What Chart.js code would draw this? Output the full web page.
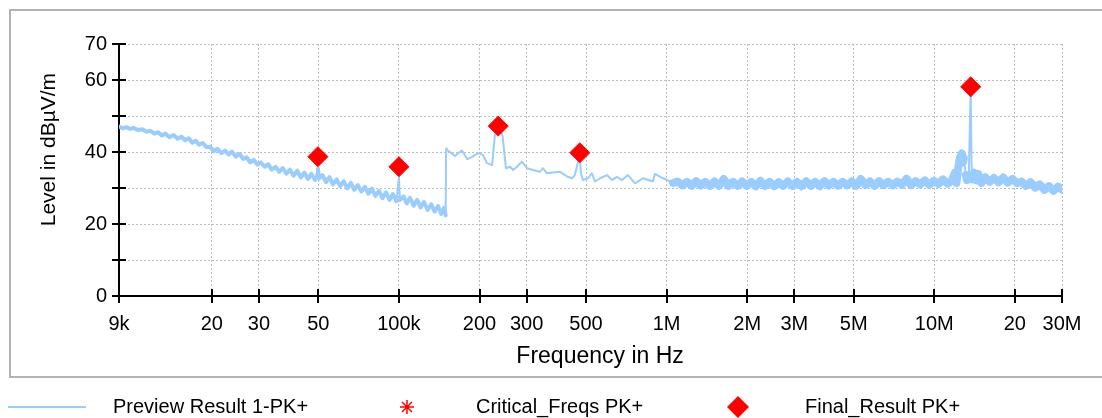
<!DOCTYPE html>
<html>
<head>
<meta charset="utf-8">
<script src="https://cdn.jsdelivr.net/npm/chart.js@4/dist/chart.umd.min.js"></script>
<style>
  html, body { margin: 0; padding: 0; background: #fff; }
  #wrap { width: 1102px; height: 418px; }
</style>
</head>
<body>
<div id="wrap"><canvas id="emc"></canvas></div>
<script>
// preview scan, frequency in kHz / level in dBµV/m
const previewFreqKHz = [
  9.0, 9.3, 9.6, 9.9, 10.2, 10.6, 11.0, 11.4, 11.8, 12.2,
  12.6, 13.0, 13.4, 13.9, 14.4, 14.9, 15.4, 15.9, 16.4, 16.9,
  17.4, 17.9, 18.5, 19.1, 19.7, 20.3, 21.0, 21.7, 22.4, 23.1,
  23.8, 24.6, 25.4, 26.2, 27.0, 27.8, 28.7, 29.6, 30.5, 31.5,
  32.5, 33.5, 34.6, 35.7, 36.8, 38.0, 39.2, 40.4, 41.7, 43.0,
  44.3, 45.7, 47.1, 48.6, 49.8, 50.2, 51.8, 53.4, 55.0, 56.7,
  58.5, 60.3, 62.2, 64.1, 66.1, 68.1, 70.2, 72.4, 74.6, 76.9,
  79.3, 81.7, 84.2, 86.8, 89.5, 92.2, 95.0, 97.9, 100.0, 100.9,
  104, 107, 110, 113.5, 117, 120.5, 124, 128, 132, 136,
  140, 144, 147.5, 149.5, 150,
  151, 155, 162, 166, 172, 180, 187, 197, 206, 213,
  223, 228, 232, 238, 244, 251, 260, 267, 276, 288,
  301, 317, 336, 345, 357, 376, 400, 425, 443, 454,
  466, 473, 479, 487, 508, 526, 540, 564, 599, 625,
  652, 681, 717, 762, 816, 889, 904, 970, 1057,
  1100, 1145, 1190, 1240, 1290, 1340, 1395, 1450, 1510, 1570,
  1635, 1700, 1770, 1840, 1915, 1990, 2070, 2155, 2240, 2330,
  2425, 2520, 2620, 2725, 2835, 2950, 3070, 3190, 3320, 3450,
  3590, 3735, 3885, 4040, 4200, 4370, 4545, 4725, 4915, 5110,
  5315, 5530, 5750, 5980, 6220, 6470, 6730, 7000, 7280, 7570,
  7870, 8185, 8515, 8855, 9210, 9580, 9960, 10360, 10775, 11205,
  11650, 11950, 12100, 12260, 12470, 12690, 12800, 12900, 13100, 13240,
  13450, 13680, 13800, 14060, 14300, 14600, 14800, 15000, 15500, 16100,
  16700, 17400, 18100, 18800, 19600, 20400, 21200, 22000, 22900, 23800,
  24800, 25800, 26800, 27900, 29000, 30000
];
const previewLevel = [
  47.1, 46.6, 46.9, 46.4, 46.7, 46.1, 46.3, 45.6, 45.9, 45.1,
  45.5, 44.6, 45.1, 44.1, 44.7, 43.7, 44.2, 43.3, 43.8, 42.6,
  43.1, 42.0, 42.5, 41.3, 41.5, 40.2, 40.9, 39.7, 40.4, 39.3,
  40.1, 38.7, 39.5, 38.1, 38.5, 37.1, 37.8, 36.5, 37.1, 35.9,
  36.6, 35.1, 35.9, 34.5, 35.5, 34.0, 35.1, 33.4, 34.8, 32.9,
  34.3, 32.5, 33.9, 32.2, 35.5, 32.6, 33.6, 31.6, 33.0, 31.0,
  32.4, 30.5, 31.9, 29.9, 31.4, 29.5, 30.8, 29.0, 30.3, 28.4,
  29.8, 27.8, 29.2, 27.2, 28.8, 26.7, 28.3, 26.3, 33.0, 26.7,
  27.7, 25.7, 27.3, 25.1, 26.7, 24.6, 26.1, 23.9, 25.5, 23.4,
  25.0, 22.8, 24.5, 22.4, 41.0,
  40.6, 40.0, 38.9, 39.6, 40.4, 38.0, 38.6, 39.7, 39.2, 36.9,
  36.4, 44.3, 47.3, 46.8, 44.3, 35.5, 35.9, 35.0, 35.9, 37.3,
  35.5, 35.0, 34.5, 35.5, 34.1, 34.3, 34.5, 33.2, 32.7, 33.6,
  37.0, 39.0, 34.0, 32.2, 32.7, 34.1, 31.8, 32.7, 33.6, 32.2,
  33.1, 32.2, 33.6, 31.3, 32.7, 31.8, 33.9, 32.7, 31.4,
  31.8, 30.7, 31.7, 30.6, 31.9, 30.7, 31.7, 30.6, 31.8, 30.6,
  32.5, 30.6, 31.7, 30.6, 31.8, 30.6, 31.7, 30.5, 32.0, 30.6,
  31.7, 30.5, 31.6, 30.6, 31.8, 30.6, 31.7, 30.5, 31.9, 30.6,
  31.7, 30.5, 31.9, 30.7, 31.7, 30.6, 31.7, 30.7, 31.8, 30.6,
  32.5, 30.8, 31.8, 30.6, 31.9, 30.8, 31.7, 30.7, 31.8, 30.9,
  32.6, 30.8, 31.9, 31.0, 32.1, 30.9, 32.0, 31.1, 32.4, 31.2,
  32.1, 34.3, 31.4, 35.1, 38.5, 39.6, 37.1, 38.2, 33.6, 32.2,
  32.7, 57.5, 32.4, 34.3, 32.2, 33.9, 31.8, 31.4, 33.0, 31.7,
  32.8, 31.6, 32.9, 31.5, 32.5, 31.3, 31.8, 30.6, 31.6, 30.1,
  31.0, 29.5, 30.5, 29.2, 30.4, 29.6
];

// final measurement results
const finalFreqKHz = [49.8, 100, 235, 474, 13680];
const finalLevel = [38.7, 35.9, 47.2, 39.8, 58.1];

// critical frequencies (none drawn in the plot)
const criticalFreqKHz = [];
const criticalLevel = [];

const xTickValues = [9e3, 2e4, 3e4, 5e4, 1e5, 2e5, 3e5, 5e5, 1e6, 2e6, 3e6, 5e6, 1e7, 2e7, 3e7];
const xTickLabels = ['9k', '20', '30', '50', '100k', '200', '300', '500', '1M', '2M', '3M', '5M', '10M', '20', '30M'];
const yLabelled = [0, 20, 40, 60, 70];

const traceColor = '#99ccff';
const markColor = '#ff0000';
const fontFamily = '"Liberation Sans", Arial, Helvetica, sans-serif';

const toPoints = (fs, ls) => fs.map((f, i) => ({ x: f * 1000, y: ls[i] }));

// the dense noise floor of the scan is drawn thicker, single spikes and the 150k-1M part thin
const traceWidth = ctx => {
  const a = ctx.p0.parsed, b = ctx.p1.parsed;
  const dy = Math.abs(b.y - a.y);
  if (a.x >= 1.05e6) return dy < 4 ? 8 : 2;
  if (a.x < 150e3) return dy < 3 ? 4 : 2;
  return 2;
};

// frame, crossing tick marks and the legend row
const decor = {
  id: 'decor',
  beforeDraw(chart) {
    const ctx = chart.ctx;
    ctx.save();
    ctx.fillStyle = '#ffffff';
    ctx.fillRect(0, 0, chart.width, chart.height);
    ctx.strokeStyle = '#b3b3b3';
    ctx.lineWidth = 2;
    ctx.strokeRect(10, 10, chart.width + 10, 367);
    ctx.restore();
  },
  afterDraw(chart) {
    const ctx = chart.ctx;
    const xs = chart.scales.x;
    const ys = chart.scales.y;
    ctx.save();
    ctx.strokeStyle = '#000';
    ctx.lineWidth = 2;
    ctx.beginPath();
    xs.ticks.forEach(t => {
      const px = Math.round(xs.getPixelForValue(t.value));
      ctx.moveTo(px, ys.bottom - 7);
      ctx.lineTo(px, ys.bottom + 7);
    });
    ys.ticks.forEach(t => {
      const py = Math.round(ys.getPixelForValue(t.value));
      ctx.moveTo(xs.left - 7, py);
      ctx.lineTo(xs.left + 7, py);
    });
    ctx.stroke();

    const ly = 407;
    const ds = chart.data.datasets;
    ctx.font = '20px ' + fontFamily;
    ctx.textBaseline = 'middle';
    ctx.textAlign = 'left';
    ctx.fillStyle = '#000';

    ctx.strokeStyle = traceColor;
    ctx.lineWidth = 2;
    ctx.beginPath();
    ctx.moveTo(8, ly);
    ctx.lineTo(86, ly);
    ctx.stroke();
    ctx.fillText(ds[0].label, 113, ly);

    // asterisk
    ctx.strokeStyle = markColor;
    ctx.lineWidth = 1.5;
    ctx.beginPath();
    for (let a = 0; a < 4; a++) {
      const ang = a * Math.PI / 4;
      ctx.moveTo(407 - 7 * Math.sin(ang), ly - 7 * Math.cos(ang));
      ctx.lineTo(407 + 7 * Math.sin(ang), ly + 7 * Math.cos(ang));
    }
    ctx.stroke();
    ctx.fillText(ds[1].label, 476, ly);

    // diamond
    ctx.fillStyle = markColor;
    ctx.beginPath();
    ctx.moveTo(738, ly - 11);
    ctx.lineTo(749, ly);
    ctx.lineTo(738, ly + 11);
    ctx.lineTo(727, ly);
    ctx.closePath();
    ctx.fill();
    ctx.fillStyle = '#000';
    ctx.fillText(ds[2].label, 805, ly);
    ctx.restore();
  }
};

const gridOpts = {
  color: '#bdbdbd',
  lineWidth: 1,
  drawTicks: true,
  tickLength: 7,
  tickColor: 'rgba(0,0,0,0)'
};
const borderOpts = { display: true, color: '#000', width: 2, dash: [2, 2] };

new Chart(document.getElementById('emc'), {
  type: 'line',
  data: {
    datasets: [
      {
        label: 'Preview Result 1-PK+',
        data: toPoints(previewFreqKHz, previewLevel),
        borderColor: traceColor,
        backgroundColor: traceColor,
        borderWidth: 2,
        borderJoinStyle: 'round',
        borderCapStyle: 'round',
        segment: { borderWidth: traceWidth },
        pointRadius: 0,
        tension: 0,
        order: 3
      },
      {
        label: 'Critical_Freqs PK+',
        data: toPoints(criticalFreqKHz, criticalLevel),
        showLine: false,
        pointStyle: 'star',
        pointRadius: 7,
        borderColor: markColor,
        backgroundColor: markColor,
        order: 1
      },
      {
        label: 'Final_Result PK+',
        data: toPoints(finalFreqKHz, finalLevel),
        showLine: false,
        pointStyle: 'rectRot',
        pointRadius: 10,
        borderWidth: 1,
        borderColor: markColor,
        backgroundColor: markColor,
        order: 0
      }
    ]
  },
  options: {
    responsive: true,
    maintainAspectRatio: false,
    animation: false,
    parsing: false,
    layout: { padding: { left: 0, right: 40, top: 44, bottom: 48 } },
    plugins: {
      legend: { display: false },
      tooltip: { enabled: false }
    },
    scales: {
      x: {
        type: 'logarithmic',
        min: 9000,
        max: 30000000,
        afterBuildTicks: s => { s.ticks = xTickValues.map(v => ({ value: v })); },
        afterFit: s => { s.height = 74; },
        grid: gridOpts,
        border: borderOpts,
        ticks: {
          autoSkip: false,
          maxRotation: 0,
          minRotation: 0,
          padding: 9,
          color: '#000',
          font: { family: fontFamily, size: 20 },
          callback: (v, i) => xTickLabels[i]
        },
        title: {
          display: true,
          text: '   Frequency in Hz',
          color: '#000',
          font: { family: fontFamily, size: 23 },
          padding: { top: 0, bottom: 0 }
        }
      },
      y: {
        type: 'linear',
        min: 0,
        max: 70,
        afterFit: s => { s.width = 119; },
        grid: gridOpts,
        border: borderOpts,
        ticks: {
          stepSize: 10,
          padding: 5,
          color: '#000',
          font: { family: fontFamily, size: 20 },
          callback: v => (yLabelled.includes(v) ? String(v) : '')
        },
        title: {
          display: true,
          text: '       Level in dBµV/m',
          color: '#000',
          font: { family: fontFamily, size: 21 },
          padding: { top: 37, bottom: 0 }
        }
      }
    }
  },
  plugins: [decor]
});
</script>
</body>
</html>
